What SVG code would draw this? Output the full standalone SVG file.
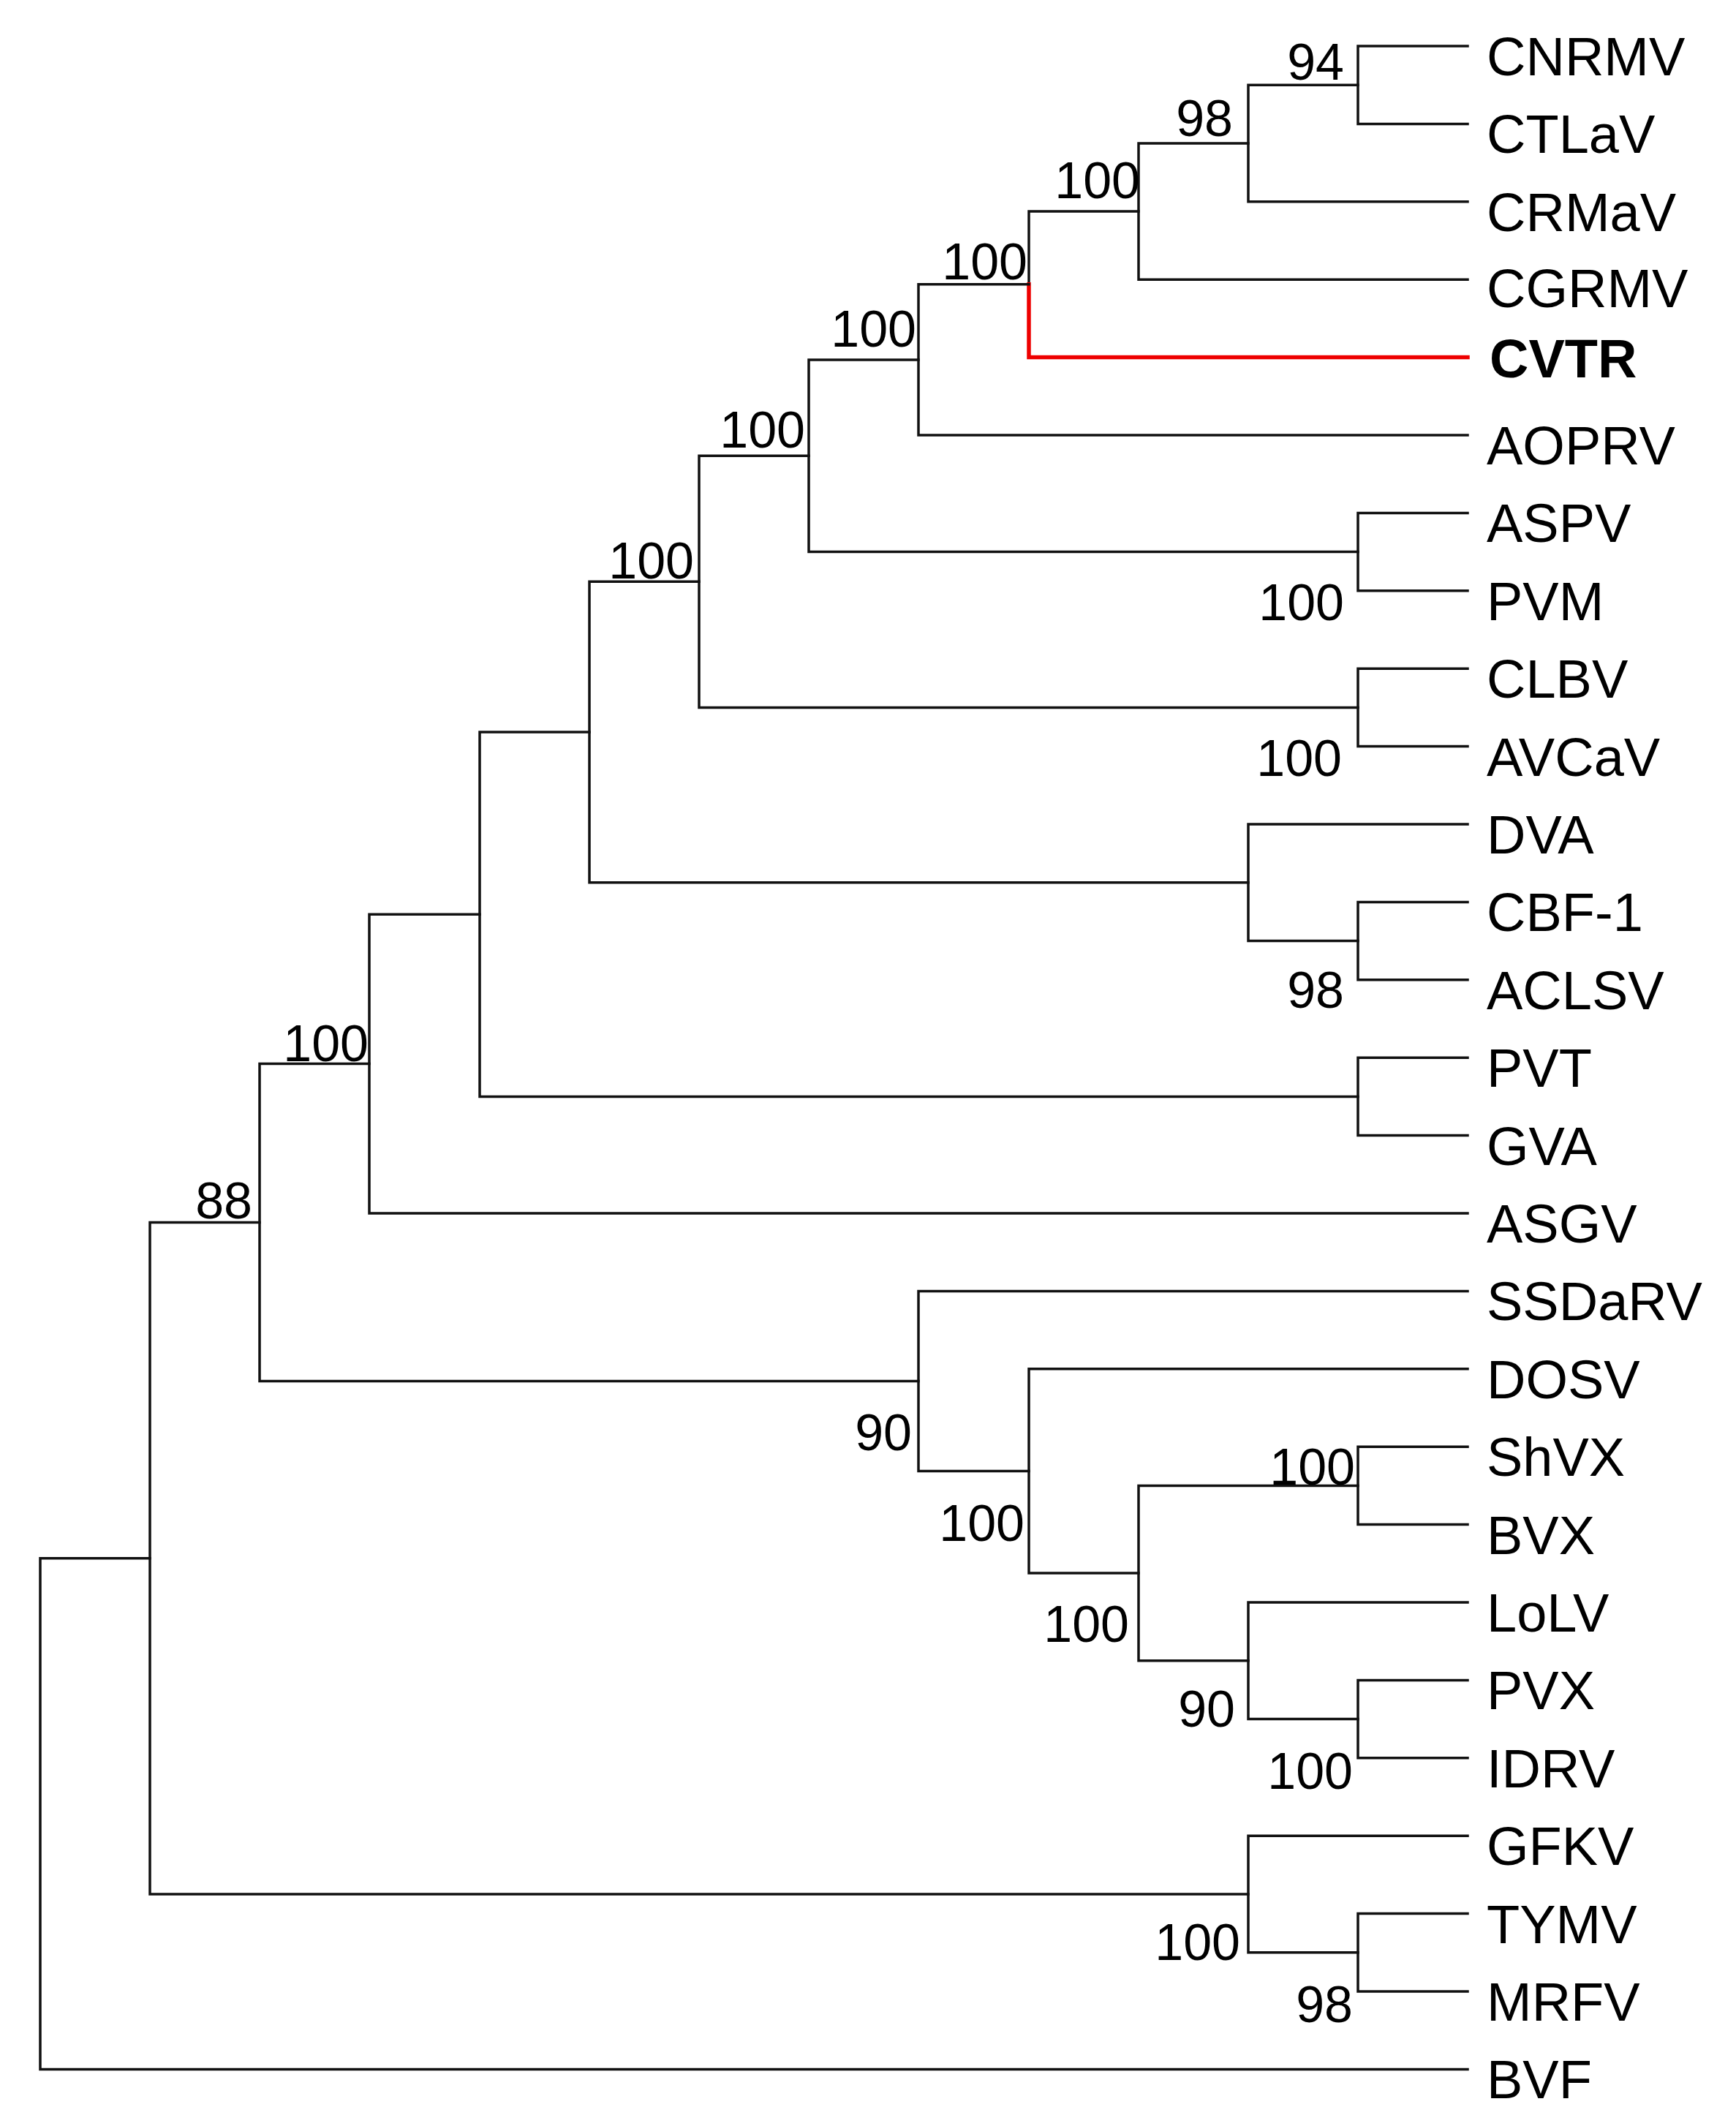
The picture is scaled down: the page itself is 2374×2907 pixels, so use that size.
<svg xmlns="http://www.w3.org/2000/svg" width="2374" height="2907" viewBox="0 0 2374 2907">
<style>
.br{fill:none;stroke:#111;stroke-width:3.5;stroke-linejoin:miter;stroke-linecap:square}
.red{fill:none;stroke:#ee0000;stroke-width:5.5;stroke-linecap:square}
.lf{font-family:"Liberation Sans",Arial,sans-serif;font-size:74px;fill:#000}
.bold{font-weight:bold}
.bs{font-family:"Liberation Sans",Arial,sans-serif;font-size:70px;fill:#000;text-anchor:end}
</style>
<rect width="2374" height="2907" fill="#fff"/>
<g id="connectors">
<path class="br" d="M2007 63H1857V169.4H2007"/>
<path class="br" d="M1857 116.2H1707V275.8H2007"/>
<path class="br" d="M1707 196H1557V382.2H2007"/>
<path class="br" d="M1557 289.1H1407V388.85"/>
<path class="red" d="M1407 388.85V488.6H2007"/>
<path class="br" d="M1407 388.85H1256V595H2007"/>
<path class="br" d="M2007 701.4H1857V807.8H2007"/>
<path class="br" d="M1256 491.9H1106V754.6H1857"/>
<path class="br" d="M2007 914.2H1857V1020.6H2007"/>
<path class="br" d="M1106 623.3H956V967.4H1857"/>
<path class="br" d="M2007 1233.4H1857V1339.8H2007"/>
<path class="br" d="M2007 1127H1707V1286.6H1857"/>
<path class="br" d="M956 795.3H806V1206.8H1707"/>
<path class="br" d="M2007 1446.2H1857V1552.6H2007"/>
<path class="br" d="M806 1001H656V1499.4H1857"/>
<path class="br" d="M656 1250.2H505V1659H2007"/>
<path class="br" d="M2007 1978.2H1857V2084.6H2007"/>
<path class="br" d="M2007 2297.4H1857V2403.8H2007"/>
<path class="br" d="M2007 2191H1707V2350.6H1857"/>
<path class="br" d="M1857 2031.4H1557V2270.8H1707"/>
<path class="br" d="M2007 1871.8H1407V2151.1H1557"/>
<path class="br" d="M2007 1765.4H1256V2011.45H1407"/>
<path class="br" d="M505 1454.6H355V1888.4H1256"/>
<path class="br" d="M2007 2616.6H1857V2723H2007"/>
<path class="br" d="M2007 2510.2H1707V2669.8H1857"/>
<path class="br" d="M355 1671.5H205V2590H1707"/>
<path class="br" d="M205 2130.75H55V2829.4H2007"/>
</g>
<g id="leaves">
<g id="leaf-CNRMV"><text class="lf" x="2033" y="103">CNRMV</text></g>
<g id="leaf-CTLaV"><text class="lf" x="2033" y="209.4">CTLaV</text></g>
<g id="leaf-CRMaV"><text class="lf" x="2033" y="315.8">CRMaV</text></g>
<g id="leaf-CGRMV"><text class="lf" x="2033" y="420.2">CGRMV</text></g>
<g id="leaf-CVTR"><text class="lf bold" x="2037" y="516">CVTR</text></g>
<g id="leaf-AOPRV"><text class="lf" x="2033" y="635">AOPRV</text></g>
<g id="leaf-ASPV"><text class="lf" x="2033" y="741.4">ASPV</text></g>
<g id="leaf-PVM"><text class="lf" x="2033" y="847.8">PVM</text></g>
<g id="leaf-CLBV"><text class="lf" x="2033" y="954.2">CLBV</text></g>
<g id="leaf-AVCaV"><text class="lf" x="2033" y="1060.6">AVCaV</text></g>
<g id="leaf-DVA"><text class="lf" x="2033" y="1167">DVA</text></g>
<g id="leaf-CBF-1"><text class="lf" x="2033" y="1273.4">CBF-1</text></g>
<g id="leaf-ACLSV"><text class="lf" x="2033" y="1379.8">ACLSV</text></g>
<g id="leaf-PVT"><text class="lf" x="2033" y="1486.2">PVT</text></g>
<g id="leaf-GVA"><text class="lf" x="2033" y="1592.6">GVA</text></g>
<g id="leaf-ASGV"><text class="lf" x="2033" y="1699">ASGV</text></g>
<g id="leaf-SSDaRV"><text class="lf" x="2033" y="1805.4">SSDaRV</text></g>
<g id="leaf-DOSV"><text class="lf" x="2033" y="1911.8">DOSV</text></g>
<g id="leaf-ShVX"><text class="lf" x="2033" y="2018.2">ShVX</text></g>
<g id="leaf-BVX"><text class="lf" x="2033" y="2124.6">BVX</text></g>
<g id="leaf-LoLV"><text class="lf" x="2033" y="2231">LoLV</text></g>
<g id="leaf-PVX"><text class="lf" x="2033" y="2337.4">PVX</text></g>
<g id="leaf-IDRV"><text class="lf" x="2033" y="2443.8">IDRV</text></g>
<g id="leaf-GFKV"><text class="lf" x="2033" y="2550.2">GFKV</text></g>
<g id="leaf-TYMV"><text class="lf" x="2033" y="2656.6">TYMV</text></g>
<g id="leaf-MRFV"><text class="lf" x="2033" y="2763">MRFV</text></g>
<g id="leaf-BVF"><text class="lf" x="2033" y="2869.4">BVF</text></g>
</g>
<g id="bootstrap">
<g id="node-L"><text class="bs" x="1838" y="109">94</text></g>
<g id="node-K"><text class="bs" x="1686" y="186">98</text></g>
<g id="node-J"><text class="bs" x="1559" y="271">100</text></g>
<g id="node-I"><text class="bs" x="1405" y="382">100</text></g>
<g id="node-H"><text class="bs" x="1253" y="474">100</text></g>
<g id="node-G"><text class="bs" x="1101" y="612">100</text></g>
<g id="node-F"><text class="bs" x="949" y="791">100</text></g>
<g id="node-C"><text class="bs" x="504" y="1451">100</text></g>
<g id="node-B"><text class="bs" x="345" y="1666">88</text></g>
<g id="node-ASPV"><text class="bs" x="1838" y="848">100</text></g>
<g id="node-CLBV"><text class="bs" x="1835" y="1061">100</text></g>
<g id="node-CBF"><text class="bs" x="1838" y="1378">98</text></g>
<g id="node-ShVX"><text class="bs" x="1853" y="2030">100</text></g>
<g id="node-SSD"><text class="bs" x="1247" y="1983">90</text></g>
<g id="node-DOSV"><text class="bs" x="1401" y="2107">100</text></g>
<g id="node-SHLO"><text class="bs" x="1544" y="2245">100</text></g>
<g id="node-LoLV"><text class="bs" x="1689" y="2361">90</text></g>
<g id="node-PVX"><text class="bs" x="1850" y="2446">100</text></g>
<g id="node-GFKV"><text class="bs" x="1696" y="2680">100</text></g>
<g id="node-TYMV"><text class="bs" x="1850" y="2765">98</text></g>
</g>
</svg>
